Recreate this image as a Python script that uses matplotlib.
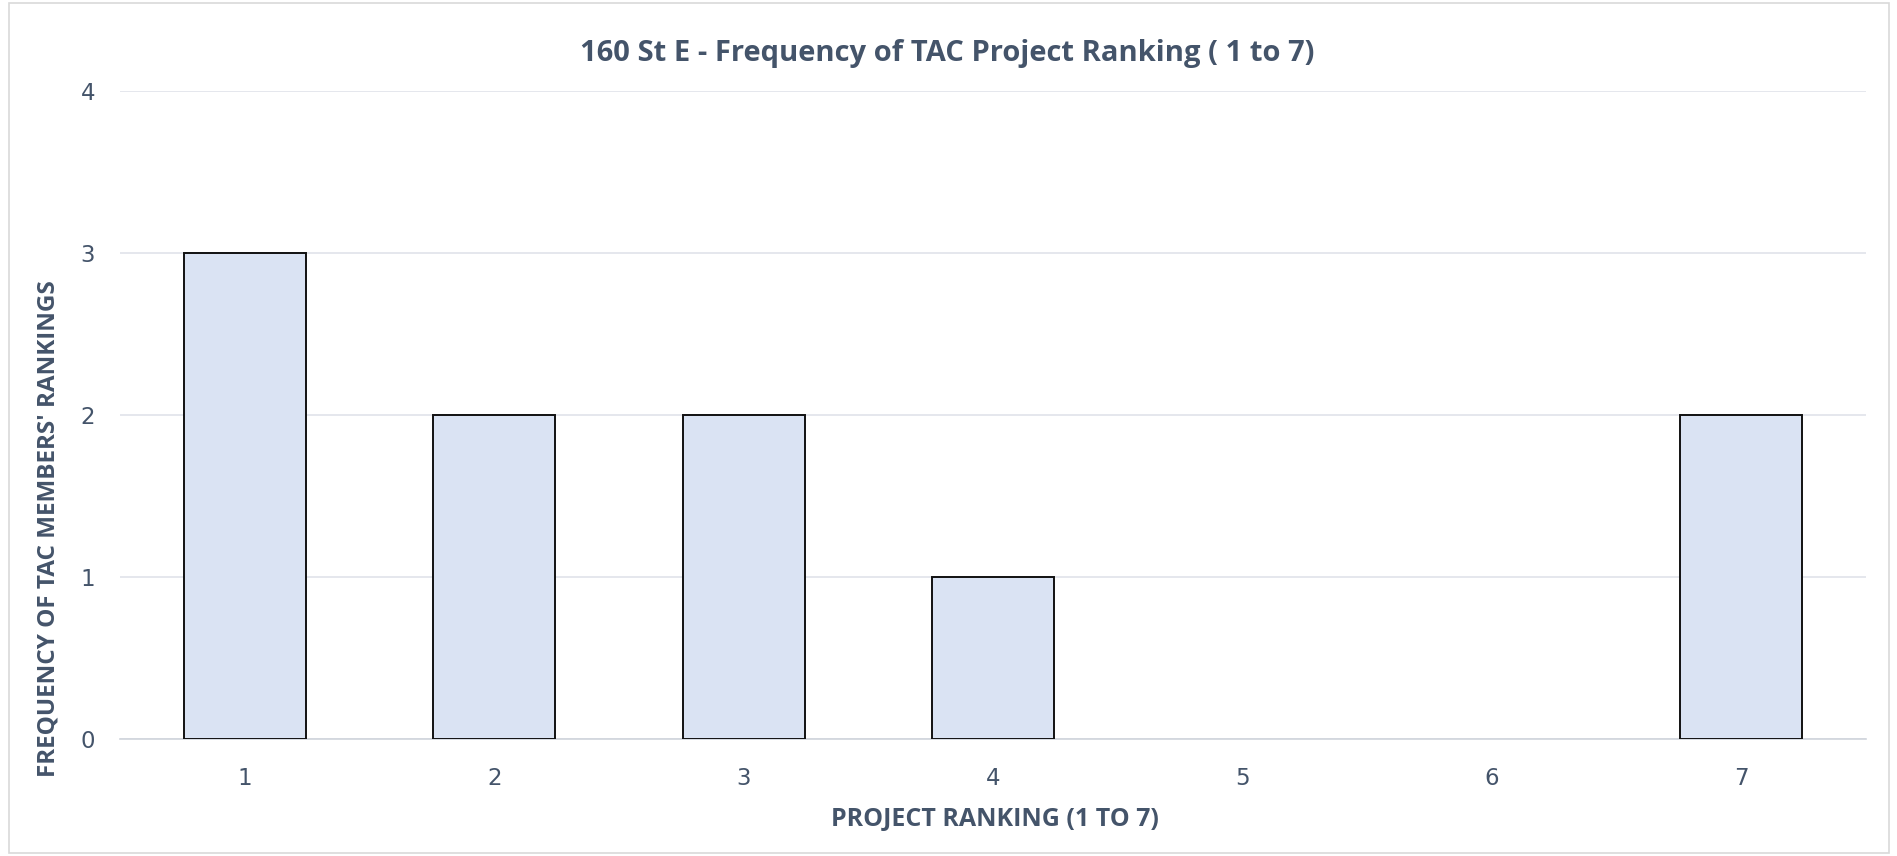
import matplotlib
matplotlib.use("Agg")
import matplotlib.pyplot as plt
from matplotlib.patches import Rectangle
from matplotlib import font_manager

rankings = ["1", "2", "3", "4", "5", "6", "7"]
frequency = [3, 2, 2, 1, 0, 0, 2]
y_ticks = [0, 1, 2, 3, 4]

title = "160 St E - Frequency of TAC Project Ranking ( 1 to 7)"
xlabel = "PROJECT RANKING (1 TO 7)"
ylabel = "FREQUENCY OF TAC MEMBERS' RANKINGS"

names = {f.name for f in font_manager.fontManager.ttflist}
narrow = "Liberation Sans Narrow" if "Liberation Sans Narrow" in names else "Open Sans"

text_color = "#44546A"
fig = plt.figure(figsize=(18.97, 8.56), dpi=100)
fig.patches.append(Rectangle((0.0045, 0.003), 0.9915, 0.994, transform=fig.transFigure,
                             fill=False, edgecolor="#D9D9D9", linewidth=1.2))
ax = fig.add_axes([0.0633, 0.1367, 0.9204, 0.757])

x = list(range(len(rankings)))
lws = [1.4 if v > 0 else 0 for v in frequency]
ax.bar(x, frequency, width=0.49, color="#DAE3F3", edgecolor="#111111", linewidth=lws, zorder=3)
ax.set_xlim(-0.5, len(rankings) - 0.5)
ax.set_ylim(0, 4)
ax.set_yticks(y_ticks)
ax.set_xticks(x)
ax.set_xticklabels(rankings)
ax.grid(axis="y", color="#E0E3EA", linewidth=1.2, zorder=0)
for s in ["top", "right", "left"]:
    ax.spines[s].set_visible(False)
ax.spines["bottom"].set_color("#D0D4DC")
ax.spines["bottom"].set_linewidth(1.2)
ax.tick_params(axis="both", length=0, colors=text_color, labelsize=16.5)
ax.tick_params(axis="x", pad=20)
ax.tick_params(axis="y", pad=18)

fig.text(0.4995, 0.938, title, ha="center", va="center", fontsize=21, fontweight="bold",
         color=text_color, family=narrow)
fig.text(0.5245, 0.043, xlabel, ha="center", va="center", fontsize=18, fontweight="bold",
         color=text_color, family=narrow)
fig.text(0.0255, 0.382, ylabel, ha="center", va="center", rotation=90, fontsize=17.5,
         fontweight="bold", color=text_color, family=narrow)

fig.savefig("out.png", dpi=100)
